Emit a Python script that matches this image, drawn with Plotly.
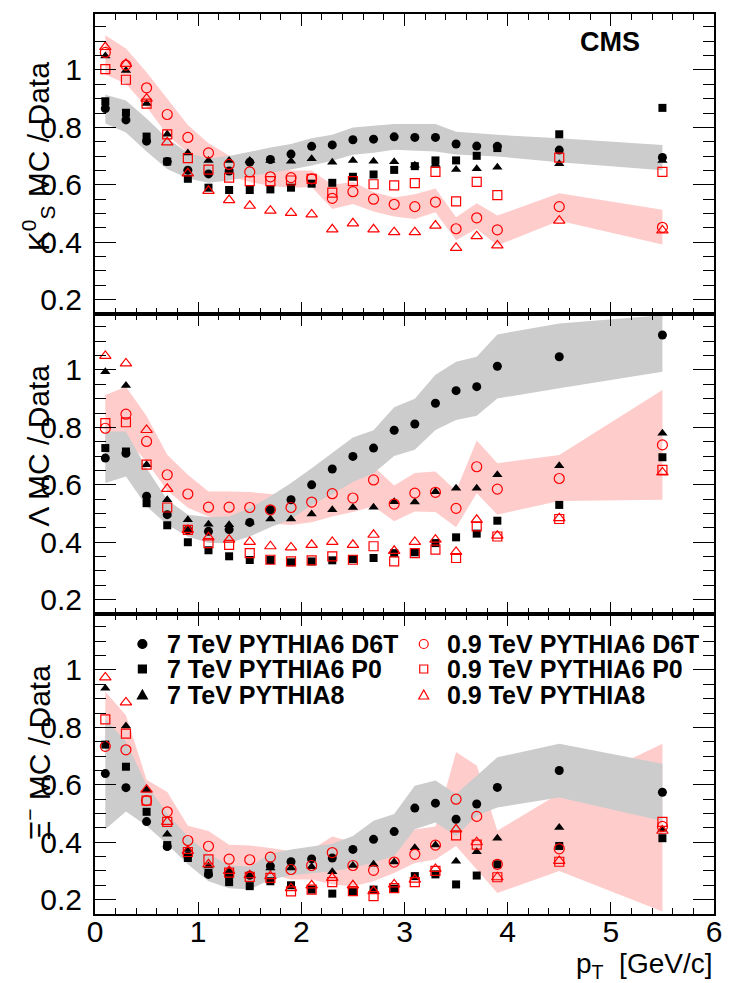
import plotly.graph_objects as go

# ---------------- data ----------------
pt = [0.1, 0.3, 0.5, 0.7, 0.9, 1.1, 1.3, 1.5, 1.7, 1.9, 2.1, 2.3, 2.5, 2.7, 2.9, 3.1, 3.3, 3.5, 3.7, 3.9, 4.5, 5.5]

# K0S panel
k7_d6t = [0.866, 0.826, 0.752, 0.681, 0.651, 0.638, 0.648, 0.679, 0.688, 0.707, 0.734, 0.739, 0.757, 0.759, 0.767, 0.765, 0.765, 0.742, 0.735, 0.734, 0.721, 0.695]
k7_p0 = [0.891, 0.851, 0.768, 0.681, 0.621, 0.590, 0.582, 0.582, 0.584, 0.590, 0.604, 0.607, 0.628, 0.636, 0.652, 0.665, 0.685, 0.685, 0.701, 0.728, 0.776, 0.868]
k7_p8 = [1.049, 0.998, 0.883, 0.776, 0.711, 0.685, 0.685, 0.685, 0.685, 0.682, 0.691, 0.679, 0.685, 0.682, 0.680, 0.668, 0.671, 0.653, 0.656, 0.661, 0.673, 0.685]
k09_d6t = [1.061, 1.017, 0.938, 0.845, 0.765, 0.711, 0.671, 0.645, 0.628, 0.625, 0.621, 0.553, 0.576, 0.550, 0.532, 0.524, 0.540, 0.447, 0.485, 0.443, 0.524, 0.452]
k09_p0 = [1.003, 0.966, 0.883, 0.776, 0.693, 0.653, 0.625, 0.613, 0.613, 0.615, 0.621, 0.573, 0.613, 0.602, 0.598, 0.606, 0.645, 0.542, 0.610, 0.564, 0.695, 0.645]
k09_p8 = [1.080, 1.021, 0.900, 0.748, 0.640, 0.579, 0.547, 0.527, 0.510, 0.502, 0.497, 0.445, 0.466, 0.445, 0.435, 0.435, 0.458, 0.380, 0.421, 0.389, 0.475, 0.441]
k7_band_hi = [0.914, 0.894, 0.831, 0.762, 0.711, 0.692, 0.700, 0.715, 0.730, 0.742, 0.762, 0.774, 0.800, 0.806, 0.812, 0.812, 0.812, 0.785, 0.780, 0.774, 0.762, 0.739]
k7_band_lo = [0.814, 0.782, 0.716, 0.655, 0.622, 0.607, 0.615, 0.630, 0.642, 0.653, 0.667, 0.684, 0.705, 0.712, 0.722, 0.720, 0.716, 0.706, 0.702, 0.699, 0.679, 0.651]
k09_band_hi = [1.121, 1.075, 0.992, 0.900, 0.808, 0.745, 0.702, 0.682, 0.665, 0.650, 0.650, 0.600, 0.610, 0.575, 0.556, 0.567, 0.587, 0.487, 0.536, 0.493, 0.571, 0.513]
k09_band_lo = [0.984, 0.952, 0.871, 0.774, 0.711, 0.665, 0.630, 0.610, 0.596, 0.590, 0.592, 0.516, 0.533, 0.507, 0.490, 0.481, 0.504, 0.407, 0.447, 0.389, 0.475, 0.392]

# Lambda panel
l7_d6t = [0.693, 0.710, 0.560, 0.496, 0.443, 0.438, 0.444, 0.469, 0.513, 0.548, 0.600, 0.655, 0.699, 0.728, 0.790, 0.812, 0.884, 0.928, 0.942, 1.013, 1.046, 1.122]
l7_p0 = [0.728, 0.716, 0.536, 0.459, 0.400, 0.372, 0.351, 0.338, 0.338, 0.330, 0.333, 0.337, 0.341, 0.345, 0.362, 0.365, 0.397, 0.417, 0.430, 0.475, 0.530, 0.696]
l7_p8 = [0.994, 0.946, 0.670, 0.548, 0.478, 0.463, 0.461, 0.470, 0.481, 0.481, 0.498, 0.513, 0.521, 0.522, 0.541, 0.540, 0.576, 0.588, 0.588, 0.635, 0.666, 0.780]
l09_d6t = [0.797, 0.846, 0.751, 0.635, 0.568, 0.522, 0.522, 0.521, 0.513, 0.521, 0.540, 0.569, 0.554, 0.617, 0.533, 0.571, 0.574, 0.518, 0.663, 0.585, 0.622, 0.739]
l09_p0 = [0.815, 0.818, 0.670, 0.521, 0.443, 0.397, 0.391, 0.362, 0.339, 0.333, 0.337, 0.351, 0.339, 0.386, 0.333, 0.362, 0.374, 0.345, 0.455, 0.420, 0.481, 0.652]
l09_p8 = [1.049, 1.023, 0.791, 0.586, 0.443, 0.417, 0.409, 0.401, 0.386, 0.382, 0.391, 0.401, 0.391, 0.426, 0.370, 0.401, 0.409, 0.366, 0.478, 0.423, 0.484, 0.643]
l7_band_hi = [0.786, 0.786, 0.658, 0.548, 0.496, 0.488, 0.490, 0.519, 0.560, 0.606, 0.658, 0.712, 0.765, 0.790, 0.870, 0.900, 0.983, 1.029, 1.046, 1.124, 1.162, 1.191]
l7_band_lo = [0.606, 0.629, 0.525, 0.461, 0.420, 0.397, 0.397, 0.420, 0.452, 0.480, 0.530, 0.568, 0.610, 0.640, 0.700, 0.722, 0.791, 0.826, 0.841, 0.901, 0.936, 0.994]
l09_band_hi = [0.913, 0.942, 0.840, 0.705, 0.635, 0.577, 0.577, 0.575, 0.568, 0.560, 0.570, 0.590, 0.620, 0.664, 0.598, 0.641, 0.646, 0.579, 0.754, 0.675, 0.704, 0.930]
l09_band_lo = [0.740, 0.760, 0.680, 0.580, 0.520, 0.490, 0.480, 0.475, 0.465, 0.460, 0.470, 0.490, 0.505, 0.525, 0.473, 0.507, 0.505, 0.452, 0.571, 0.496, 0.544, 0.548]

# Xi panel
x7_d6t = [0.639, 0.590, 0.472, 0.385, 0.352, 0.288, 0.282, 0.285, 0.317, 0.332, 0.342, 0.345, 0.375, 0.410, 0.437, 0.519, 0.536, 0.480, 0.533, 0.591, 0.650, 0.574]
x7_p0 = [0.740, 0.663, 0.506, 0.390, 0.345, 0.293, 0.261, 0.247, 0.264, 0.250, 0.235, 0.221, 0.227, 0.235, 0.238, 0.282, 0.288, 0.253, 0.284, 0.323, 0.387, 0.414]
x7_p8 = [0.936, 0.805, 0.583, 0.428, 0.375, 0.317, 0.299, 0.288, 0.310, 0.310, 0.315, 0.297, 0.319, 0.323, 0.331, 0.381, 0.390, 0.334, 0.367, 0.414, 0.451, 0.445]
x09_d6t = [0.734, 0.722, 0.545, 0.506, 0.406, 0.386, 0.341, 0.339, 0.348, 0.305, 0.319, 0.364, 0.319, 0.302, 0.331, 0.358, 0.390, 0.550, 0.490, 0.323, 0.377, 0.455]
x09_p0 = [0.828, 0.778, 0.545, 0.471, 0.366, 0.340, 0.294, 0.279, 0.276, 0.229, 0.235, 0.261, 0.230, 0.212, 0.240, 0.261, 0.300, 0.424, 0.392, 0.278, 0.332, 0.471]
x09_p8 = [0.974, 0.887, 0.583, 0.471, 0.370, 0.323, 0.300, 0.285, 0.282, 0.240, 0.250, 0.276, 0.250, 0.230, 0.253, 0.270, 0.307, 0.445, 0.400, 0.278, 0.335, 0.440]
x7_band_hi = [0.830, 0.750, 0.600, 0.500, 0.420, 0.360, 0.320, 0.315, 0.360, 0.375, 0.385, 0.395, 0.422, 0.475, 0.498, 0.597, 0.615, 0.568, 0.632, 0.696, 0.743, 0.673]
x7_band_lo = [0.445, 0.507, 0.457, 0.393, 0.323, 0.264, 0.240, 0.235, 0.270, 0.285, 0.293, 0.299, 0.311, 0.329, 0.352, 0.445, 0.469, 0.422, 0.492, 0.521, 0.556, 0.474]
x09_band_hi = [0.924, 0.842, 0.618, 0.575, 0.457, 0.439, 0.391, 0.389, 0.380, 0.369, 0.375, 0.420, 0.400, 0.410, 0.434, 0.445, 0.455, 0.714, 0.667, 0.440, 0.570, 0.743]
x09_band_lo = [0.700, 0.630, 0.480, 0.440, 0.360, 0.340, 0.300, 0.300, 0.290, 0.270, 0.270, 0.253, 0.247, 0.264, 0.293, 0.328, 0.340, 0.387, 0.305, 0.223, 0.300, 0.159]

series_names = ["7 TeV PYTHIA6 D6T", "7 TeV PYTHIA6 P0", "7 TeV PYTHIA8",
                "0.9 TeV PYTHIA6 D6T", "0.9 TeV PYTHIA6 P0", "0.9 TeV PYTHIA8"]
x_ticks = [0, 1, 2, 3, 4, 5, 6]
y_ticks = [0.2, 0.4, 0.6, 0.8, 1.0]
y_ticktext = ["0.2", "0.4", "0.6", "0.8", "1"]
y_titles = ["K<sup>0</sup><sub>S</sub> MC / Data", "Λ MC / Data", "Ξ<sup>−</sup> MC / Data"]

# ---------------- styling ----------------
F = "Liberation Sans, Arial, Helvetica, sans-serif"
RED = "#ff0000"
GRAY_BAND = "#cccccc"
PINK_BAND = "#ffcccc"
styles = [
    dict(symbol="circle", color="black", size=9, line=dict(width=0)),
    dict(symbol="square", color="black", size=8, line=dict(width=0)),
    dict(symbol="triangle-up", color="black", size=9, line=dict(width=0)),
    dict(symbol="circle-open", color=RED, size=10, line=dict(width=1.2, color=RED)),
    dict(symbol="square-open", color=RED, size=9, line=dict(width=1.2, color=RED)),
    dict(symbol="triangle-up-open", color=RED, size=10, line=dict(width=1.2, color=RED)),
]

panels = [
    ("x3", "y3", [k7_d6t, k7_p0, k7_p8, k09_d6t, k09_p0, k09_p8], k7_band_hi, k7_band_lo, k09_band_hi, k09_band_lo),
    ("x2", "y2", [l7_d6t, l7_p0, l7_p8, l09_d6t, l09_p0, l09_p8], l7_band_hi, l7_band_lo, l09_band_hi, l09_band_lo),
    ("x", "y", [x7_d6t, x7_p0, x7_p8, x09_d6t, x09_p0, x09_p8], x7_band_hi, x7_band_lo, x09_band_hi, x09_band_lo),
]

fig = go.Figure()
for xa, ya, series, b7h, b7l, b9h, b9l in panels:
    for hi, lo, col in [(b9h, b9l, PINK_BAND), (b7h, b7l, GRAY_BAND)]:
        fig.add_trace(go.Scatter(x=pt + pt[::-1], y=hi + lo[::-1], fill="toself", fillcolor=col,
                                 mode="lines", line=dict(width=0, color=col), hoverinfo="skip",
                                 showlegend=False, xaxis=xa, yaxis=ya))
    for name, vals, st in zip(series_names, series, styles):
        fig.add_trace(go.Scatter(x=pt, y=vals, mode="markers", name=name, showlegend=False,
                                 marker=dict(symbol=st["symbol"], color=st["color"], size=st["size"],
                                             line=st["line"]),
                                 xaxis=xa, yaxis=ya))

W, H = 729, 983
ML, MR, MT, MB = 95, 7, 14, 69
PW, PH = W - ML - MR, H - MT - MB


def px_x(px):
    return (px - ML) / PW


def px_y(py):
    return (H - MB - py) / PH


tickfont = dict(family=F, size=30, color="black")
common_x = dict(range=[0, 6], tickmode="array", tickvals=x_ticks, ticks="inside", ticklen=12, tickwidth=1,
                tickcolor="black", minor=dict(tickmode="linear", tick0=0, dtick=0.2, ticks="inside", ticklen=6,
                                              tickwidth=1, tickcolor="black"),
                showline=True, linecolor="black", linewidth=2, mirror="allticks", showgrid=False,
                zeroline=False, tickfont=tickfont, ticklabelstandoff=-10)
common_y = dict(range=[0.15, 1.195], tickmode="array", tickvals=y_ticks, ticktext=y_ticktext, ticks="inside",
                ticklen=21, tickwidth=1, tickcolor="black",
                minor=dict(tickmode="linear", tick0=0, dtick=0.05, ticks="inside", ticklen=11, tickwidth=1,
                           tickcolor="black"),
                showline=True, linecolor="black", linewidth=2, mirror="allticks", showgrid=False,
                zeroline=False, tickfont=tickfont, ticklabelstandoff=5)

fig.update_layout(
    width=W, height=H, margin=dict(l=ML, r=MR, t=MT, b=MB),
    paper_bgcolor="white", plot_bgcolor="white", showlegend=False,
    xaxis=dict(common_x, anchor="y", showticklabels=True),
    xaxis2=dict(common_x, anchor="y2", matches="x", showticklabels=False),
    xaxis3=dict(common_x, anchor="y3", matches="x", showticklabels=False),
    yaxis=dict(common_y, domain=[0, 1 / 3], anchor="x"),
    yaxis2=dict(common_y, domain=[1 / 3, 2 / 3], anchor="x2"),
    yaxis3=dict(common_y, domain=[2 / 3, 1], anchor="x3"),
)

ann = []
for title, top_py in zip(y_titles, [60, 363, 663]):
    ann.append(dict(text=title, x=px_x(37), y=px_y(top_py), xref="paper", yref="paper", textangle=-90,
                    xanchor="center", yanchor="top", showarrow=False, font=dict(family=F, size=30, color="black")))
ann.append(dict(text="p<sub>T</sub>  [GeV/c]", x=1, y=px_y(965), xref="paper", yref="paper",
                xanchor="right", yanchor="middle", showarrow=False, font=dict(family=F, size=28, color="black")))
ann.append(dict(text="<b>CMS</b>", x=px_x(617), y=px_y(42), xref="paper", yref="paper",
                xanchor="center", yanchor="middle", showarrow=False, font=dict(family=F, size=27, color="black")))

# manual legend (two columns x three rows)
shapes = []
col_marker_px = [143, 428]
col_text_px = [167, 451]
row_py = [644, 669, 695]
for i, (name, st) in enumerate(zip(series_names, styles)):
    c, r = divmod(i, 3)
    mx, my = px_x(col_marker_px[c]), px_y(row_py[r])
    filled = st["color"] == "black"
    fill = "black" if filled else "rgba(0,0,0,0)"
    lc = "black" if filled else RED
    base = dict(xref="paper", yref="paper", xsizemode="pixel", ysizemode="pixel", xanchor=mx, yanchor=my,
                fillcolor=fill, line=dict(color=lc, width=1.2))
    if "circle" in st["symbol"]:
        shapes.append(dict(base, type="circle", x0=-4.5, x1=4.5, y0=-4.5, y1=4.5))
    elif "square" in st["symbol"]:
        shapes.append(dict(base, type="rect", x0=-4, x1=4, y0=-4, y1=4))
    else:
        shapes.append(dict(base, type="path", path="M -5 -4 L 5 -4 L 0 5 Z"))
    ann.append(dict(text="<b>%s</b>" % name, x=px_x(col_text_px[c]), y=my, xref="paper", yref="paper",
                    xanchor="left", yanchor="middle", height=24, borderpad=0, showarrow=False,
                    font=dict(family=F, size=25, color="black")))

fig.update_layout(annotations=ann, shapes=shapes)
fig.write_html("out.html", config={"displayModeBar": False},
               post_script="document.body.style.margin='0';document.body.style.overflow='hidden';")
